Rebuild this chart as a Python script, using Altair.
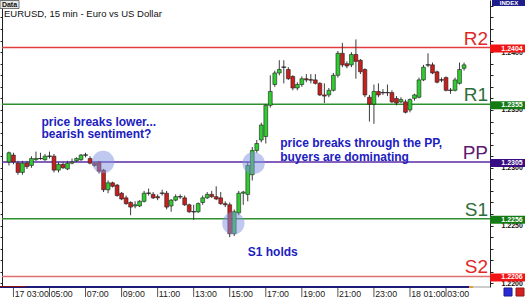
import altair as alt
import pandas as pd

# ---------------- data ----------------
opens = [1.2305, 1.2311, 1.2304, 1.2296, 1.2304, 1.2302, 1.2307, 1.2308, 1.2307, 1.2310,
         1.2310, 1.2298, 1.2303, 1.2299, 1.2304, 1.2306, 1.2307, 1.2311, 1.2308, 1.2304,
         1.2305, 1.2298, 1.2281, 1.2287, 1.2285, 1.2278, 1.2274, 1.2270, 1.2267, 1.2267,
         1.2271, 1.2278, 1.2277, 1.2275, 1.2278, 1.2278, 1.2267, 1.2272, 1.2275, 1.2274,
         1.2268, 1.2262, 1.2262, 1.2270, 1.2274, 1.2277, 1.2275, 1.2274, 1.2269, 1.2268,
         1.2243, 1.2261, 1.2278, 1.2277, 1.2294, 1.2315, 1.2324, 1.2327, 1.2354, 1.2372,
         1.2382, 1.2387, 1.2385, 1.2379, 1.2369, 1.2372, 1.2377, 1.2376, 1.2376, 1.2373,
         1.2363, 1.2363, 1.2367, 1.2380, 1.2399, 1.2390, 1.2389, 1.2398, 1.2393, 1.2385,
         1.2361, 1.2355, 1.2366, 1.2365, 1.2365, 1.2365, 1.2360, 1.2357, 1.2357, 1.2350,
         1.2360, 1.2361, 1.2376, 1.2389, 1.2389, 1.2383, 1.2376, 1.2378, 1.2367, 1.2367,
         1.2373, 1.2386]
highs = [1.2314, 1.2313, 1.2306, 1.2306, 1.2306, 1.2310, 1.2314, 1.2313, 1.2312, 1.2314,
         1.2312, 1.2305, 1.2305, 1.2306, 1.2308, 1.2309, 1.2312, 1.2313, 1.2310, 1.2305,
         1.2306, 1.2299, 1.2289, 1.2288, 1.2286, 1.2279, 1.2276, 1.2271, 1.2271, 1.2272,
         1.2280, 1.2282, 1.2279, 1.2277, 1.2281, 1.2280, 1.2273, 1.2277, 1.2277, 1.2276,
         1.2269, 1.2268, 1.2270, 1.2276, 1.2279, 1.2280, 1.2284, 1.2279, 1.2271, 1.2270,
         1.2264, 1.2280, 1.2280, 1.2305, 1.2318, 1.2324, 1.2339, 1.2355, 1.2380, 1.2384,
         1.2393, 1.2393, 1.2387, 1.2380, 1.2374, 1.2379, 1.2381, 1.2381, 1.2381, 1.2374,
         1.2373, 1.2369, 1.2382, 1.2401, 1.2408, 1.2392, 1.2400, 1.2411, 1.2394, 1.2386,
         1.2363, 1.2372, 1.2373, 1.2368, 1.2372, 1.2367, 1.2362, 1.2361, 1.2359, 1.2360,
         1.2364, 1.2378, 1.2389, 1.2399, 1.2391, 1.2384, 1.2378, 1.2379, 1.2369, 1.2378,
         1.2391, 1.2391]
lows = [1.2302, 1.2303, 1.2294, 1.2294, 1.2299, 1.2300, 1.2306, 1.2307, 1.2306, 1.2308,
        1.2296, 1.2296, 1.2299, 1.2298, 1.2303, 1.2305, 1.2306, 1.2309, 1.2303, 1.2301,
        1.2295, 1.2279, 1.2278, 1.2283, 1.2275, 1.2272, 1.2268, 1.2259, 1.2265, 1.2266,
        1.2270, 1.2276, 1.2273, 1.2272, 1.2276, 1.2264, 1.2262, 1.2271, 1.2273, 1.2267,
        1.2261, 1.2255, 1.2261, 1.2268, 1.2273, 1.2274, 1.2272, 1.2268, 1.2266, 1.2240,
        1.2241, 1.2259, 1.2268, 1.2271, 1.2289, 1.2313, 1.2322, 1.2321, 1.2352, 1.2370,
        1.2380, 1.2373, 1.2376, 1.2367, 1.2367, 1.2370, 1.2374, 1.2373, 1.2372, 1.2362,
        1.2356, 1.2361, 1.2366, 1.2378, 1.2387, 1.2386, 1.2387, 1.2377, 1.2381, 1.2361,
        1.2340, 1.2338, 1.2361, 1.2363, 1.2362, 1.2356, 1.2354, 1.2356, 1.2347, 1.2348,
        1.2358, 1.2360, 1.2375, 1.2387, 1.2381, 1.2373, 1.2374, 1.2366, 1.2364, 1.2366,
        1.2372, 1.2384]
closes = [1.2313, 1.2305, 1.2296, 1.2304, 1.2301, 1.2308, 1.2308, 1.2308, 1.2310, 1.2310,
          1.2298, 1.2303, 1.2300, 1.2304, 1.2305, 1.2308, 1.2311, 1.2311, 1.2304, 1.2302,
          1.2297, 1.2281, 1.2287, 1.2284, 1.2276, 1.2273, 1.2269, 1.2266, 1.2268, 1.2271,
          1.2278, 1.2278, 1.2274, 1.2274, 1.2278, 1.2266, 1.2272, 1.2275, 1.2275, 1.2268,
          1.2262, 1.2262, 1.2269, 1.2274, 1.2277, 1.2275, 1.2273, 1.2269, 1.2268, 1.2243,
          1.2262, 1.2278, 1.2279, 1.2302, 1.2315, 1.2321, 1.2337, 1.2354, 1.2366, 1.2382,
          1.2385, 1.2387, 1.2377, 1.2369, 1.2372, 1.2377, 1.2376, 1.2376, 1.2373, 1.2363,
          1.2362, 1.2367, 1.2380, 1.2399, 1.2389, 1.2388, 1.2398, 1.2392, 1.2383, 1.2363,
          1.2355, 1.2366, 1.2363, 1.2365, 1.2365, 1.2357, 1.2356, 1.2359, 1.2348, 1.2359,
          1.2363, 1.2376, 1.2387, 1.2389, 1.2382, 1.2374, 1.2376, 1.2367, 1.2367, 1.2376,
          1.2385, 1.2389]

tick_idx = [1, 9, 17, 25, 33, 41, 49, 57, 65, 73, 81, 89, 97]
tick_labels = ["17 03:00", "05:00", "07:00", "09:00", "11:00", "13:00", "15:00",
               "17:00", "19:00", "21:00", "23:00", "18 01:00", "03:00"]

level_names = ["R2", "R1", "PP", "S1", "S2"]
level_values = [1.2404, 1.2355, 1.2305, 1.2256, 1.2206]
level_line_colors = ["#e23c3c", "#2f8f2f", "#5a2aa6", "#2f8f2f", "#e07070"]
level_text_colors = ["#e02828", "#2e6e3a", "#5e1a70", "#2e6e3a", "#e02828"]
level_tag_colors = ["#f01414", "#147a14", "#3a0c82", "#147a14", "#f01414"]
level_tag_texts = ["1.2404", "1.2355", "1.2305", "1.2256", "1.2206"]

circle_idx = [20.9, 54.3, 49.8]
circle_price = [1.2305, 1.2304, 1.2252]

note_texts = ["price breaks lower...", "bearish sentiment?",
              "price breaks through the PP,", "buyers are dominating", "S1 holds"]
note_idx = [7.2, 7.2, 60.2, 60.2, 53.0]
note_price = [1.23399, 1.23290, 1.23212, 1.23091, 1.22272]

# ---------------- tables ----------------
candles = pd.DataFrame({
    "i": list(range(len(opens))),
    "open": opens, "high": highs, "low": lows, "close": closes,
})
levels = pd.DataFrame({
    "name": level_names, "value": level_values,
    "line": level_line_colors, "tcol": level_text_colors,
    "tag": level_tag_colors, "tagtext": level_tag_texts,
})
circles = pd.DataFrame({"i": circle_idx, "p": circle_price})
notes = pd.DataFrame({"t": note_texts, "i": note_idx, "p": note_price})
ticks_df = pd.DataFrame({"i": tick_idx, "label": tick_labels})

W, H = 488, 287
xs = alt.Scale(domain=[-0.43, 105.65], nice=False, zero=False)
ys = alt.Scale(domain=[1.21969, 1.24451], nice=False, zero=False)

y_ticks = [round(1.2200 + k * 0.001, 4) for k in range(25)]

y_axis_right = alt.Axis(orient="right", values=y_ticks, grid=False, domainColor="#222",
                        tickColor="#222", tickSize=3, labelPadding=8, labelFont="Liberation Sans",
                        labelFontSize=7, labelFontWeight="bold", labelColor="#111",
                        labelExpr="round(datum.value*10000) % 50 == 0 ? format(datum.value, '.4f') : ''",
                        title=None, labelOverlap=False, labelFlush=False)
y_axis_left = alt.Axis(orient="left", values=y_ticks, grid=False, domainColor="#222",
                       tickColor="#222", tickSize=2, labels=False, title=None)

X = lambda f="i": alt.X(f"{f}:Q", scale=xs, axis=None)

# level lines
lvl_lines = alt.Chart(levels).mark_rule(strokeWidth=1.5).encode(
    y=alt.Y("value:Q", scale=ys, axis=y_axis_left),
    color=alt.Color("line:N", scale=None),
)

# wicks (carry the right y axis)
wicks = alt.Chart(candles).mark_rule(color="#3c3c3c", strokeWidth=1).encode(
    x=X(),
    y=alt.Y("low:Q", scale=ys, axis=y_axis_right),
    y2="high:Q",
)

bodies = alt.Chart(candles).mark_bar(size=3.8, stroke="#1e1e1e", strokeWidth=0.6).encode(
    x=X(),
    y=alt.Y("open:Q", scale=ys, axis=None),
    y2="close:Q",
    color=alt.condition("datum.close >= datum.open", alt.value("#2fcc2f"), alt.value("#c81e1e")),
)

dojis = alt.Chart(candles).transform_filter("datum.open == datum.close").mark_tick(
    color="#2a2a2a", thickness=1, size=5, orient="horizontal").encode(
    x=X(),
    y=alt.Y("close:Q", scale=ys, axis=None),
)

circ = alt.Chart(circles).mark_circle(size=500, color="#7f94e2", opacity=0.5).encode(
    x=X(), y=alt.Y("p:Q", scale=ys, axis=None))

lvl_text = alt.Chart(levels).mark_text(align="right", baseline="alphabetic", dy=-3,
                                        font="Liberation Sans", fontSize=19).encode(
    x=alt.value(486), y=alt.Y("value:Q", scale=ys, axis=None),
    text="name:N", color=alt.Color("tcol:N", scale=None))

note_layer = alt.Chart(notes).mark_text(align="left", baseline="middle", font="Liberation Sans",
                                         fontSize=12, fontWeight="bold", color="#2020c0").encode(
    x=X(), y=alt.Y("p:Q", scale=ys, axis=None), text="t:N")

tags = alt.Chart(levels).mark_rect(yOffset=-3, y2Offset=5).encode(
    x=alt.value(488), x2=alt.value(523),
    y=alt.Y("value:Q", scale=ys, axis=None), y2="value:Q",
    color=alt.Color("tag:N", scale=None))

tag_text = alt.Chart(levels).mark_text(align="center", baseline="middle", dy=1, color="white",
                                       font="Liberation Sans", fontSize=7, fontWeight="bold").encode(
    x=alt.value(510), y=alt.Y("value:Q", scale=ys, axis=None), text="tagtext:N")

# time axis drawn from the tick lists: baseline, tick marks and labels
x_base = alt.Chart(pd.DataFrame({"a": [0]})).mark_rule(color="#1c1c78", strokeWidth=2).encode(
    x=alt.value(-2), x2=alt.value(467), y=alt.value(287))
x_base_red = alt.Chart(pd.DataFrame({"a": [0]})).mark_rule(color="#8a1010", strokeWidth=1).encode(
    x=alt.value(-2), x2=alt.value(24), y=alt.value(286.5))
x_base_org = alt.Chart(pd.DataFrame({"a": [0]})).mark_rule(color="#e0a040", strokeWidth=2).encode(
    x=alt.value(467), x2=alt.value(471), y=alt.value(287))
x_base_grey = alt.Chart(pd.DataFrame({"a": [0]})).mark_rule(color="#9a9a9a", strokeWidth=1).encode(
    x=alt.value(471), x2=alt.value(488), y=alt.value(287))
x_ticks = alt.Chart(ticks_df).mark_rule(color="#555", strokeWidth=1).encode(
    x=alt.X("i:Q", scale=xs, axis=None), y=alt.value(288), y2=alt.value(297))
x_labels = alt.Chart(ticks_df).mark_text(align="left", baseline="middle", dx=1.2,
                                         font="Liberation Sans", fontSize=8.8, color="#222").encode(
    x=alt.X("i:Q", scale=xs, axis=None), y=alt.value(293.5), text="label:N")

title = alt.Chart(pd.DataFrame({"t": ["EURUSD, 15 min - Euro vs US Dollar"]})).mark_text(
    align="left", baseline="middle", font="Liberation Sans", fontSize=9.5, color="#111").encode(
    x=alt.value(2), y=alt.value(13.5), text="t:N")

data_box = alt.Chart(pd.DataFrame({"t": ["Data"]})).mark_rect(
    fill="#e6e6e6", stroke="#555", strokeWidth=0.8).encode(
    x=alt.value(-2), x2=alt.value(17), y=alt.value(0.5), y2=alt.value(8.5))
data_txt = alt.Chart(pd.DataFrame({"t": ["Data"]})).mark_text(
    align="center", baseline="middle", font="Liberation Sans", fontSize=7, fontWeight="bold",
    color="#111").encode(x=alt.value(7.5), y=alt.value(4.8), text="t:N")

index_box = alt.Chart(pd.DataFrame({"t": ["INDEX"]})).mark_rect(fill="#1c1c8a").encode(
    x=alt.value(490), x2=alt.value(523), y=alt.value(-1), y2=alt.value(6))
index_txt = alt.Chart(pd.DataFrame({"t": ["INDEX"]})).mark_text(
    align="center", baseline="middle", font="Liberation Sans", fontSize=6, fontWeight="bold",
    color="white").encode(x=alt.value(507), y=alt.value(2.8), text="t:N")

icon1 = alt.Chart(pd.DataFrame({"t": ["a"]})).mark_rect(fill="#2a2ad6", stroke="#1a1a8a").encode(
    x=alt.value(502), x2=alt.value(510), y=alt.value(288), y2=alt.value(296))
icon2 = alt.Chart(pd.DataFrame({"t": ["b"]})).mark_rect(fill="#d62020", stroke="#8a1a1a").encode(
    x=alt.value(514), x2=alt.value(522), y=alt.value(288), y2=alt.value(296))

chart = alt.layer(
    lvl_lines, wicks, bodies, dojis, circ, lvl_text, note_layer, tags, tag_text,
    x_base, x_base_red, x_base_org, x_base_grey, x_ticks, x_labels,
    title, data_box, data_txt, index_box, index_txt, icon1, icon2,
).resolve_scale(y="shared", x="shared").resolve_axis(y="independent").properties(
    width=W, height=H,
    autosize=alt.AutoSizeParams(type="none"),
    padding={"left": 2, "top": 0, "right": 35, "bottom": 11},
    background="white",
).configure_view(stroke=None)

chart.save("out.html", embed_options={"renderer": "svg", "actions": False})
